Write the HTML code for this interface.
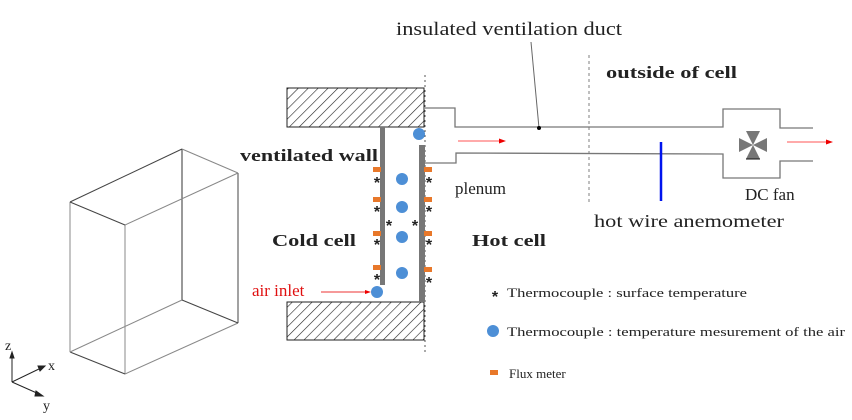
<!DOCTYPE html>
<html><head><meta charset="utf-8"><style>
html,body{margin:0;padding:0;background:#fff;}
svg{display:block;font-family:"Liberation Serif",serif;}
</style></head><body>
<svg width="852" height="420" viewBox="0 0 852 420" xmlns="http://www.w3.org/2000/svg">
<defs>
<pattern id="h" width="7" height="7" patternUnits="userSpaceOnUse" patternTransform="rotate(45)">
<rect width="7" height="7" fill="#fff"/><line x1="0" y1="0" x2="0" y2="7" stroke="#222" stroke-width="1.2"/>
</pattern>
</defs>
<!-- box -->
<g stroke="#888" stroke-width="1" fill="none">
<line x1="70" y1="202" x2="70" y2="352"/>
<line x1="125" y1="225" x2="125" y2="374"/>
<line x1="182" y1="149" x2="182" y2="300" stroke="#333"/>
<line x1="238" y1="173" x2="238" y2="323" stroke="#444"/>
<line x1="70" y1="202" x2="125" y2="225" stroke="#444"/>
<line x1="125" y1="225" x2="238" y2="173"/>
<line x1="70" y1="202" x2="182" y2="149" stroke="#444"/>
<line x1="182" y1="149" x2="238" y2="173"/>
<line x1="70" y1="352" x2="125" y2="374" stroke="#444"/>
<line x1="125" y1="374" x2="238" y2="323"/>
<line x1="70" y1="352" x2="182" y2="300"/>
<line x1="182" y1="300" x2="238" y2="323" stroke="#444"/>
</g>
<!-- axes -->
<g stroke="#222" stroke-width="1" fill="#222">
<line x1="12" y1="382" x2="12" y2="356"/><polygon points="12,352 10,358 14,358"/>
<line x1="12" y1="382" x2="41" y2="368"/><polygon points="45,366 38,366 40,371"/>
<line x1="12" y1="382" x2="39" y2="394"/><polygon points="43,396 36,391 35,396"/>
</g>
<g font-size="14" fill="#222"><text x="5" y="350">z</text><text x="48" y="370">x</text><text x="43" y="410">y</text></g>
<!-- dotted center line -->
<line x1="425" y1="75" x2="425" y2="352" stroke="#555" stroke-width="1" stroke-dasharray="2,3"/>
<line x1="589" y1="55" x2="589" y2="205" stroke="#aaa" stroke-width="1.5" stroke-dasharray="3,3"/>
<!-- hatched blocks -->
<rect x="287" y="88" width="137" height="39" fill="url(#h)" stroke="#222" stroke-width="1"/>
<rect x="287" y="302" width="137" height="38" fill="url(#h)" stroke="#222" stroke-width="1"/>
<!-- walls -->
<rect x="380" y="127" width="5" height="158" fill="#777"/>
<rect x="419" y="145" width="6" height="157" fill="#777"/>
<!-- duct -->
<g stroke="#777" stroke-width="1.3" fill="none">
<polyline points="425,108 455,108 455,127 723,127 723,109 780,109 780,128 813,128"/>
<polyline points="425,163 456,163 456,153 723,154 723,178 780,178 780,161 813,161"/>
</g>
<line x1="458" y1="141" x2="500" y2="141" stroke="#f55" stroke-width="1"/><polygon points="506,141 499,138.5 499,143.5" fill="#e00"/>
<line x1="787" y1="142" x2="826" y2="142" stroke="#f55" stroke-width="1"/><polygon points="833,142 826,139.5 826,144.5" fill="#e00"/>
<line x1="661" y1="142" x2="661" y2="201" stroke="#0014ee" stroke-width="2.5"/>
<!-- fan -->
<g fill="#777">
<polygon points="753,145 746,131 760,131"/><polygon points="753,145 746,159 760,159"/>
<polygon points="753,145 739,138 739,152"/><polygon points="753,145 767,138 767,152"/>
</g>
<line x1="746" y1="159" x2="760" y2="159" stroke="#111" stroke-width="1"/>
<!-- leader -->
<line x1="531" y1="42" x2="539" y2="128" stroke="#666" stroke-width="1"/>
<circle cx="539" cy="128" r="2" fill="#000"/>
<!-- circles -->
<g fill="#4d8fd6">
<circle cx="419" cy="134" r="6"/><circle cx="402" cy="179" r="6"/><circle cx="402" cy="207" r="6"/>
<circle cx="402" cy="237" r="6"/><circle cx="402" cy="273" r="6"/><circle cx="377" cy="292" r="6"/>
<circle cx="493" cy="331" r="6"/>
</g>
<!-- flux meters -->
<g fill="#e8782a">
<rect x="373" y="167" width="8" height="5"/><rect x="373" y="197" width="8" height="5"/><rect x="373" y="231" width="8" height="5"/><rect x="373" y="265" width="8" height="5"/>
<rect x="424" y="167" width="8" height="5"/><rect x="424" y="197" width="8" height="5"/><rect x="424" y="231" width="8" height="5"/><rect x="424" y="267" width="8" height="5"/>
<rect x="490" y="370" width="8" height="5"/>
</g>
<!-- asterisks -->
<g font-family="Liberation Sans,sans-serif" font-size="16" font-weight="bold" fill="#222" text-anchor="middle">
<text x="377" y="188">*</text><text x="377" y="217">*</text><text x="377" y="250">*</text><text x="377" y="285">*</text>
<text x="389" y="231">*</text><text x="415" y="231">*</text>
<text x="429" y="188">*</text><text x="429" y="217">*</text><text x="429" y="250">*</text><text x="429" y="288">*</text>
<text x="495" y="302">*</text>
</g>
<!-- air inlet -->
<line x1="321" y1="292" x2="366" y2="292" stroke="#e33" stroke-width="1"/><polygon points="371,292 365,290 365,294" fill="#e00"/>
<text x="252" y="296" font-size="17" fill="#e01010">air inlet</text>
<!-- labels -->
<g fill="#222">
<text x="396" y="35" font-size="19" textLength="226" lengthAdjust="spacingAndGlyphs">insulated ventilation duct</text>
<text x="606" y="78" font-size="17" font-weight="bold" textLength="131" lengthAdjust="spacingAndGlyphs">outside of cell</text>
<text x="240" y="161" font-size="17" font-weight="bold" textLength="138" lengthAdjust="spacingAndGlyphs">ventilated wall</text>
<text x="455" y="194" font-size="17">plenum</text>
<text x="745" y="200" font-size="17">DC fan</text>
<text x="594" y="227" font-size="18" textLength="190" lengthAdjust="spacingAndGlyphs">hot wire anemometer</text>
<text x="272" y="246" font-size="17" font-weight="bold" textLength="84" lengthAdjust="spacingAndGlyphs">Cold cell</text>
<text x="472" y="246" font-size="17" font-weight="bold" textLength="74" lengthAdjust="spacingAndGlyphs">Hot cell</text>
<text x="507" y="297" font-size="13" textLength="240" lengthAdjust="spacingAndGlyphs">Thermocouple : surface temperature</text>
<text x="507" y="336" font-size="13" textLength="338" lengthAdjust="spacingAndGlyphs">Thermocouple : temperature mesurement of the air</text>
<text x="509" y="378" font-size="13">Flux meter</text>
</g>
</svg>
</body></html>
